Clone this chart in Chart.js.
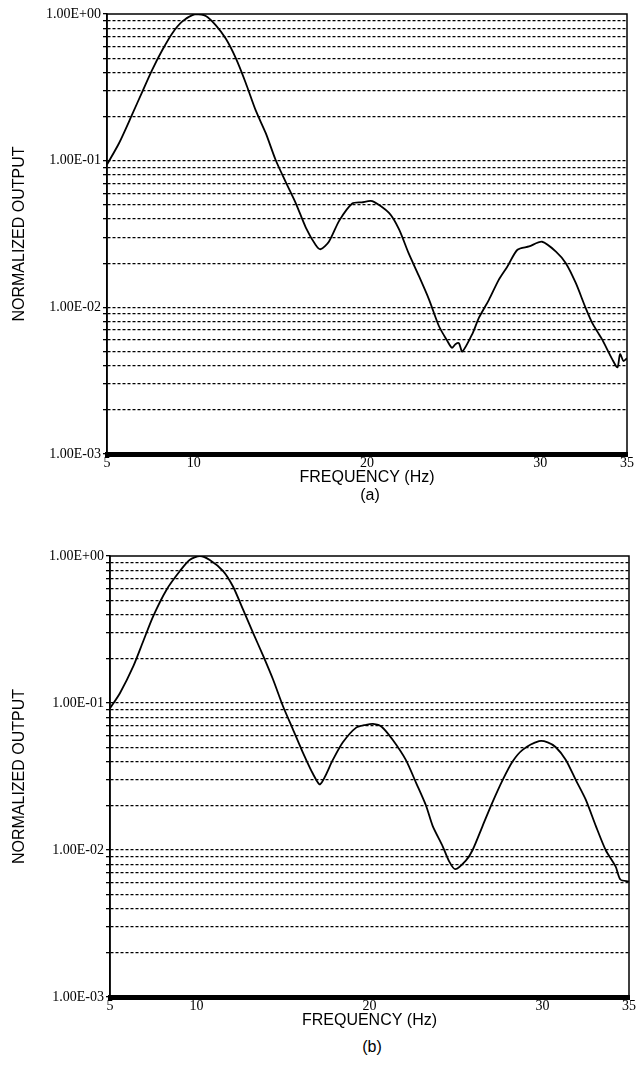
<!DOCTYPE html>
<html>
<head>
<meta charset="utf-8">
<script src="https://cdn.jsdelivr.net/npm/chart.js@4/dist/chart.umd.min.js"></script>
<style>
  body { margin: 0; background: #fff; width: 637px; height: 1074px; position: relative; overflow: hidden; }
  canvas { position: absolute; left: 0; }
  .cap { position: absolute; width: 120px; text-align: center; font: 16px "Liberation Sans", Arial, sans-serif; color: #000; }
</style>
</head>
<body>
<canvas id="chartA" width="637" height="491" style="top:0px"></canvas>
<div class="cap" style="left:310px; top:486px">(a)</div>
<canvas id="chartB" width="637" height="494" style="top:540px"></canvas>
<div class="cap" style="left:312px; top:1038px">(b)</div>
<script>
// panel (a) - measured response
const freqA = [5, 5.7, 6.44, 7.04, 7.6, 8.2, 8.77, 9.35, 10.1, 10.7, 11.27, 11.85, 12.43, 13.0, 13.58, 14.16,
  14.73, 15.3, 15.9, 16.47, 17.04, 17.33, 17.8, 18.4, 19.15, 19.7, 20.3, 21.27, 21.85, 22.4, 23.0, 23.58,
  24.16, 24.6, 24.9, 25.1, 25.3, 25.5, 26.08, 26.46, 27.04, 27.6, 28.1, 28.68, 29.35, 30.1, 30.9, 31.47,
  32.05, 32.6, 33.0, 33.3, 33.58, 34.16, 34.45, 34.6, 34.8, 35];
const outputA = [0.094, 0.132, 0.205, 0.296, 0.415, 0.57, 0.74, 0.89, 1.0, 0.97, 0.84, 0.68, 0.50, 0.34, 0.22, 0.154,
  0.101, 0.072, 0.051, 0.035, 0.0266, 0.0249, 0.028, 0.039, 0.051, 0.052, 0.053, 0.044, 0.034, 0.0234, 0.0163, 0.0113,
  0.0074, 0.0060, 0.0053, 0.0056, 0.0057, 0.0050, 0.0066, 0.0085, 0.0113, 0.0154, 0.019, 0.0247, 0.026, 0.028, 0.024, 0.020,
  0.0146, 0.010, 0.0078, 0.0068, 0.006, 0.0044, 0.0039, 0.0048, 0.0043, 0.0045];

// panel (b) - computed response
const freqB = [5, 5.58, 6.35, 6.92, 7.5, 8.27, 9.04, 9.6, 10.2, 10.77, 11.54, 12.11, 12.7, 13.27, 13.85, 14.42,
  15.0, 15.58, 16.15, 16.73, 17.15, 17.88, 18.46, 19.23, 19.8, 20.2, 20.7, 21.35, 22.1, 22.7, 23.27, 23.65,
  24.23, 24.62, 24.96, 25.58, 25.96, 26.54, 27.1, 27.7, 28.27, 28.85, 29.8, 30.3, 30.77, 31.35, 31.92, 32.5,
  33.08, 33.65, 34.23, 34.5, 35];
const outputB = [0.092, 0.117, 0.178, 0.263, 0.39, 0.59, 0.79, 0.94, 1.0, 0.94, 0.79, 0.62, 0.43, 0.30, 0.21, 0.145,
  0.095, 0.066, 0.046, 0.033, 0.028, 0.041, 0.054, 0.068, 0.071, 0.072, 0.069, 0.056, 0.041, 0.0285, 0.020, 0.0146,
  0.0106, 0.0083, 0.0074, 0.0085, 0.010, 0.0146, 0.021, 0.030, 0.040, 0.048, 0.055, 0.054, 0.050, 0.041, 0.030, 0.022,
  0.0146, 0.010, 0.0077, 0.0063, 0.0061];

const xTickValues = [5, 10, 20, 30, 35];
const yDecades = [0.001, 0.01, 0.1, 1];
const yTickLabels = ['1.00E-03', '1.00E-02', '1.00E-01', '1.00E+00'];

// every 1..9 step inside each decade gets a dashed grid line
const yGridValues = [];
yDecades.forEach((d, i) => {
  if (i === yDecades.length - 1) { yGridValues.push(d); return; }
  for (let k = 1; k <= 9; k++) yGridValues.push(+(k * d).toPrecision(3));
});

const frame = {
  id: 'frame',
  afterDatasetsDraw(chart) {
    const a = chart.chartArea;
    const ctx = chart.ctx;
    ctx.save();
    ctx.strokeStyle = '#000';
    ctx.lineWidth = 1.5;
    ctx.beginPath();
    ctx.moveTo(a.left, a.bottom);
    ctx.lineTo(a.left, a.top);
    ctx.lineTo(a.right, a.top);
    ctx.lineTo(a.right, a.bottom);
    ctx.stroke();
    ctx.restore();
  }
};

function makeChart(id, freq, output, yWidth, pad) {
  const pts = freq.map((f, i) => ({ x: f, y: output[i] }));
  return new Chart(document.getElementById(id), {
    type: 'line',
    data: {
      datasets: [{
        data: pts,
        borderColor: '#000',
        borderWidth: 1.8,
        pointRadius: 0,
        tension: 0.25,
        fill: false
      }]
    },
    options: {
      responsive: false,
      animation: false,
      devicePixelRatio: 1,
      layout: { padding: pad },
      plugins: { legend: { display: false }, tooltip: { enabled: false } },
      scales: {
        x: {
          type: 'linear',
          min: 5,
          max: 35,
          afterBuildTicks: s => { s.ticks = xTickValues.map(v => ({ value: v })); },
          afterFit: s => { s.height = 37; },
          grid: { display: false, drawTicks: false },
          border: { display: true, color: '#000', width: 5 },
          ticks: {
            color: '#000',
            padding: 1,
            maxRotation: 0,
            autoSkip: false,
            font: { family: '"Liberation Serif", "Times New Roman", serif', size: 14 }
          },
          title: {
            display: true,
            text: 'FREQUENCY (Hz)',
            color: '#000',
            padding: { top: 0, bottom: 4 },
            font: { family: '"Liberation Sans", Arial, sans-serif', size: 16 }
          }
        },
        y: {
          type: 'logarithmic',
          min: 0.001,
          max: 1,
          afterBuildTicks: s => { s.ticks = yGridValues.map(v => ({ value: v })); },
          afterFit: s => { s.width = yWidth; },
          grid: {
            color: c => (c.tick && (c.tick.value === 1 || c.tick.value === 0.001)) ? 'rgba(0,0,0,0)' : '#000',
            lineWidth: 1.3,
            tickColor: '#000',
            tickLength: 4,
            tickWidth: 1.3,
            tickBorderDash: []
          },
          border: { display: true, color: '#000', width: 1.5, dash: [3, 2] },
          ticks: {
            color: '#000',
            padding: 2,
            autoSkip: false,
            font: { family: '"Liberation Serif", "Times New Roman", serif', size: 14 },
            callback: v => {
              const i = yDecades.findIndex(d => Math.abs(d - v) < d * 1e-6);
              return i >= 0 ? yTickLabels[i] : '';
            }
          },
          title: {
            display: true,
            text: 'NORMALIZED OUTPUT',
            color: '#000',
            padding: { top: 10, bottom: 0 },
            font: { family: '"Liberation Sans", Arial, sans-serif', size: 16 }
          }
        }
      }
    },
    plugins: [frame]
  });
}

makeChart('chartA', freqA, outputA, 107, { top: 14, right: 10, left: 0, bottom: 0 });
makeChart('chartB', freqB, outputB, 110, { top: 16, right: 7, left: 0, bottom: 0 });
</script>
</body>
</html>
